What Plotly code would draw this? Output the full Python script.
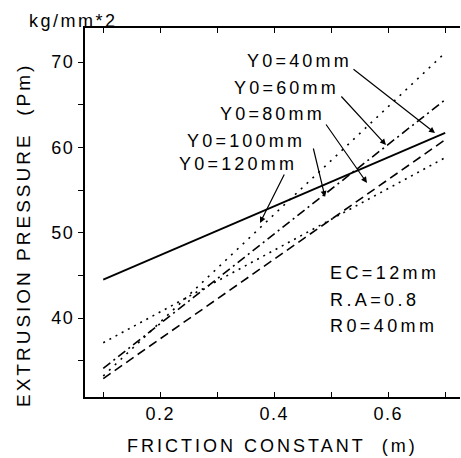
import plotly.graph_objects as go

# ---- data ----
friction = [0.1, 0.7]
p_y40 = [44.5, 61.7]
p_y60 = [37.1, 58.8]
p_y80 = [32.9, 60.9]
p_y100 = [34.1, 65.6]
p_y120 = [33.2, 71.1]

series_names = ["Y0=40mm", "Y0=60mm", "Y0=80mm", "Y0=100mm", "Y0=120mm"]
x_tick_vals = [0.1, 0.2, 0.3, 0.4, 0.5, 0.6, 0.7]
x_tick_text = ["", "0.2", "", "0.4", "", "0.6", ""]
y_tick_vals = [35, 40, 45, 50, 55, 60, 65, 70]
y_tick_text = ["", "40", "", "50", "", "60", "", "70"]
notes = ["EC=12mm", "R.A=0.8", "R0=40mm"]

# ---- layout geometry (pixels) ----
W, H = 461, 458
L, R, T, B = 85, 460, 28, 397
FONT = "Liberation Sans, Arial, sans-serif"


def px(xp):
    return (xp - L) / (R - L)


def py(yp):
    return (B - yp) / (B - T)


def sp(text, s):
    return '<span style="letter-spacing:%spx">%s</span>' % (s, text)


fig = go.Figure()
styles = [
    dict(dash="solid", width=1.8),
    dict(dash="2px,5px", width=1.6),
    dict(dash="9px,5px", width=1.6),
    dict(dash="9px,4px,2px,4px", width=1.6),
    dict(dash="2px,6px", width=1.6),
]
for name, vals, st in zip(series_names, [p_y40, p_y60, p_y80, p_y100, p_y120], styles):
    fig.add_trace(go.Scatter(x=friction, y=vals, mode="lines", name=name,
                             line=dict(color="black", **st), showlegend=False))

annotations = []
# series labels with arrows
labels = [
    ("Y0=40mm", 245, 61, (352, 68), (435, 133)),
    ("Y0=60mm", 232, 88, (340, 95), (386, 145)),
    ("Y0=80mm", 218, 114, (325, 123), (367, 183)),
    ("Y0=100mm", 185, 141, (313, 147), (325, 197)),
    ("Y0=120mm", 177, 164, (285, 173), (260, 223)),
]
for text, lx, ly, tail, tip in labels:
    annotations.append(dict(text=sp(text, 3.2), x=px(lx), y=py(ly), xref="paper", yref="paper",
                            xanchor="left", yanchor="middle", showarrow=False,
                            font=dict(size=18, color="black", family=FONT)))
    annotations.append(dict(text="", x=px(tip[0]), y=py(tip[1]), xref="paper", yref="paper",
                            ax=tail[0] - tip[0], ay=tail[1] - tip[1], axref="pixel", ayref="pixel",
                            showarrow=True, arrowhead=2, arrowsize=1, arrowwidth=1.2,
                            arrowcolor="black", standoff=0, startstandoff=0))

for i, n in enumerate(notes):
    annotations.append(dict(text=sp(n, 3.4), x=px(328), y=py(273 + 26.5 * i), xref="paper", yref="paper",
                            xanchor="left", yanchor="middle", showarrow=False,
                            font=dict(size=18, color="black", family=FONT)))

annotations.append(dict(text=sp("kg/mm*2", 2.5), x=px(27), y=py(21), xref="paper", yref="paper",
                        xanchor="left", yanchor="middle", showarrow=False,
                        font=dict(size=18, color="black", family=FONT)))
annotations.append(dict(text=sp("FRICTION CONSTANT\u00a0 (m)", 3.0), x=px(272), y=py(446),
                        xref="paper", yref="paper", xanchor="center", yanchor="middle",
                        showarrow=False, font=dict(size=18, color="black", family=FONT)))
annotations.append(dict(text=sp("EXTRUSION PRESSURE\u00a0 (Pm)", 3.0), x=px(23), y=py(235),
                        xref="paper", yref="paper", xanchor="center", yanchor="middle",
                        textangle=-90, showarrow=False,
                        font=dict(size=19, color="black", family=FONT)))

fig.update_layout(
    width=W, height=H,
    margin=dict(l=L, r=W - R, t=T, b=H - B, pad=0),
    paper_bgcolor="white", plot_bgcolor="white",
    font=dict(family=FONT, color="black", size=18),
    showlegend=False,
    annotations=annotations,
    xaxis=dict(range=[0.068, 0.726], tickvals=x_tick_vals,
               ticktext=[sp(t, 1.5) for t in x_tick_text],
               ticks="inside", ticklen=5, tickwidth=1.3, tickcolor="black",
               showline=True, linecolor="black", linewidth=1.5, mirror="ticks",
               showgrid=False, zeroline=False, tickfont=dict(size=18, color="black")),
    yaxis=dict(range=[30.74, 74.0], tickvals=y_tick_vals,
               ticktext=[sp(t, 1.5) for t in y_tick_text],
               ticks="outside", ticklen=5, tickwidth=1.3, tickcolor="black",
               showline=True, linecolor="black", linewidth=2,
               showgrid=False, zeroline=False, tickfont=dict(size=18, color="black")),
    yaxis2=dict(range=[30.74, 74.0], overlaying="y", side="right", anchor="x",
                tickvals=y_tick_vals, showticklabels=False,
                ticks="inside", ticklen=5, tickwidth=1.3, tickcolor="black",
                showline=False, showgrid=False, zeroline=False),
)

fig.write_html("out.html")
